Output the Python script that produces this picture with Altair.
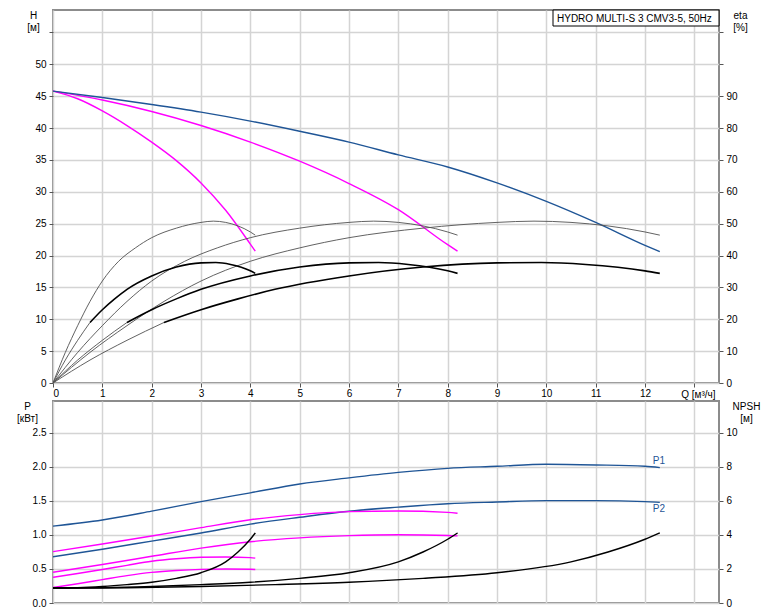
import altair as alt
import pandas as pd

FONT = "Liberation Sans"
BLUE = "#1f5596"
MAGENTA = "#ff00ff"
GRID = "#d4d4d4"
FRAME = "#8c8c8c"

TITLE = "HYDRO MULTI-S 3 CMV3-5, 50Hz"

# ---------------- Q-H curves (H, m) : 1, 2 and 3 pumps
q_h_1 = [0, 0.5, 1, 1.5, 2, 2.5, 3, 3.5, 4, 4.1]
h_1 = [45.8, 44.6, 42.7, 40.4, 37.8, 34.9, 31.4, 27.1, 21.8, 20.7]
q_h_2 = [0, 1, 2, 3, 4, 5, 6, 7, 8, 8.2]
h_2 = [45.8, 44.4, 42.6, 40.4, 37.8, 34.8, 31.3, 27.2, 21.7, 20.7]
q_h_3 = [0, 1, 2, 3, 4, 5, 6, 7, 8, 9, 10, 11, 12, 12.3]
h_3 = [45.8, 44.8, 43.7, 42.5, 41.1, 39.5, 37.8, 35.8, 33.9, 31.4, 28.5, 25.2, 21.6, 20.6]

# ---------------- pump efficiency (eta, %)
q_e_1 = [0, 0.25, 0.5, 0.75, 1, 1.33, 1.67, 2, 2.5, 3, 3.25, 3.5, 4, 4.1]
e_1 = [0, 9.6, 18.0, 25.6, 32.0, 38.2, 42.4, 45.6, 48.6, 50.4, 50.8, 50.4, 47.4, 46.4]
q_e_2 = [0, 0.5, 1, 1.5, 2, 2.67, 3.33, 4, 5, 6, 6.5, 7, 8, 8.2]
e_2 = [0, 9.6, 18.0, 25.6, 32.0, 38.2, 42.4, 45.6, 48.6, 50.4, 50.8, 50.4, 47.4, 46.4]
q_e_3 = [0, 0.75, 1.5, 2.25, 3, 4, 5, 6, 7.5, 9, 9.75, 10.5, 12, 12.3]
e_3 = [0, 9.6, 18.0, 25.6, 32.0, 38.2, 42.4, 45.6, 48.6, 50.4, 50.8, 50.4, 47.4, 46.4]

# ---------------- total efficiency (eta, %), thick from operating range start
q_t_1 = [0, 0.25, 0.5, 0.75, 1, 1.25, 1.5, 2, 2.5, 3, 3.3, 3.6, 4, 4.1]
t_1 = [0, 7.2, 13.4, 19.0, 23.0, 26.4, 29.4, 33.6, 36.4, 37.7, 37.8, 37.2, 35.2, 34.4]
q_t_2 = [0, 0.5, 1, 1.5, 2, 2.5, 3, 4, 5, 6, 6.6, 7.2, 8, 8.2]
t_2 = [0, 7.2, 13.4, 19.0, 23.0, 26.4, 29.4, 33.6, 36.4, 37.7, 37.8, 37.2, 35.2, 34.4]
q_t_3 = [0, 0.75, 1.5, 2.25, 3, 3.75, 4.5, 6, 7.5, 9, 9.9, 10.8, 12, 12.3]
t_3 = [0, 7.2, 13.4, 19.0, 23.0, 26.4, 29.4, 33.6, 36.4, 37.7, 37.8, 37.2, 35.2, 34.4]
t_thick_start = [0.75, 1.5, 2.25]

# ---------------- power (kW)
q_p_3 = [0, 1, 2, 3, 4, 5, 6, 7, 8, 9, 10, 11, 12, 12.3]
p1_3 = [1.13, 1.22, 1.35, 1.49, 1.62, 1.75, 1.84, 1.92, 1.98, 2.01, 2.04, 2.03, 2.01, 1.99]
p2_3 = [0.68, 0.79, 0.91, 1.03, 1.16, 1.26, 1.35, 1.41, 1.46, 1.485, 1.505, 1.505, 1.49, 1.48]
q_p_2 = [0, 1, 2, 3, 4, 5, 6, 7, 8, 8.2]
p1_2 = [0.755, 0.868, 0.985, 1.108, 1.225, 1.30, 1.343, 1.353, 1.333, 1.32]
p2_2 = [0.453, 0.567, 0.687, 0.807, 0.90, 0.957, 0.99, 1.003, 0.993, 0.987]
q_p_1 = [0, 0.5, 1, 1.5, 2, 2.5, 3, 3.5, 4, 4.1]
p1_1 = [0.378, 0.434, 0.493, 0.554, 0.613, 0.65, 0.672, 0.677, 0.667, 0.66]
p2_1 = [0.227, 0.283, 0.343, 0.403, 0.45, 0.478, 0.495, 0.50, 0.497, 0.493]

# ---------------- NPSH (m)
q_n_1 = [0, 0.5, 1, 1.5, 2, 2.5, 3, 3.5, 3.75, 4, 4.1]
q_n_2 = [0, 1, 2, 3, 4, 5, 6, 7, 7.5, 8, 8.2]
q_n_3 = [0, 1.5, 3, 4.5, 6, 7.5, 9, 10.5, 11.25, 12, 12.3]
n_1 = [0.88, 0.9, 0.97, 1.08, 1.22, 1.45, 1.78, 2.42, 3.0, 3.75, 4.12]
n_2 = [0.88, 0.9, 0.97, 1.08, 1.22, 1.45, 1.78, 2.42, 3.0, 3.75, 4.12]
n_3 = [0.88, 0.9, 0.97, 1.08, 1.22, 1.45, 1.78, 2.42, 3.0, 3.75, 4.12]


def curve(q, v, name, kind=""):
    return pd.DataFrame({"Q": q, "v": v, "s": name, "kind": kind,
                         "i": list(range(len(q)))})


h_df = pd.concat([curve(q_h_1, h_1, "H1"), curve(q_h_2, h_2, "H2"),
                  curve(q_h_3, h_3, "H3")])

eta_parts = [curve(q_e_1, e_1, "E1", "thin"), curve(q_e_2, e_2, "E2", "thin"),
             curve(q_e_3, e_3, "E3", "thin")]
for k, (q, t, qs) in enumerate(zip([q_t_1, q_t_2, q_t_3], [t_1, t_2, t_3], t_thick_start)):
    lo = [(a, b) for a, b in zip(q, t) if a <= qs]
    hi = [(a, b) for a, b in zip(q, t) if a >= qs]
    eta_parts.append(curve([a for a, _ in lo], [b for _, b in lo], f"T{k}a", "thin"))
    eta_parts.append(curve([a for a, _ in hi], [b for _, b in hi], f"T{k}b", "thick"))
eta_df = pd.concat(eta_parts)

p_df = pd.concat([curve(q_p_3, p1_3, "P1_3"), curve(q_p_3, p2_3, "P2_3"),
                  curve(q_p_2, p1_2, "P1_2"), curve(q_p_2, p2_2, "P2_2"),
                  curve(q_p_1, p1_1, "P1_1"), curve(q_p_1, p2_1, "P2_1")])
n_df = pd.concat([curve(q_n_1, n_1, "N1"), curve(q_n_2, n_2, "N2"),
                  curve(q_n_3, n_3, "N3")])

lab1_df = pd.DataFrame({"Q": [q_p_3[-1]], "v": [p1_3[-1]], "label": ["P1"]})
lab2_df = pd.DataFrame({"Q": [q_p_3[-1]], "v": [p2_3[-1]], "label": ["P2"]})
title_df = pd.DataFrame({"t": [TITLE]})

W = 666
H_TOP = 373
H_BOT = 202
Q_DOM = [0, 13.5]
H_DOM = [0, 58.53]
ETA_DOM = [0, 117.06]
P_DOM = [0, 2.97]
N_DOM = [0, 11.88]
INTERP = "monotone"

common = dict(tickSize=4, tickColor="#555555", labelFont=FONT, labelFontSize=10,
              labelColor="black", titleFont=FONT, titleFontSize=10,
              titleFontWeight="normal", titleColor="black", domain=False,
              gridColor=GRID, gridWidth=1.5)

x_top = alt.X("Q:Q", scale=alt.Scale(domain=Q_DOM, nice=False),
              axis=alt.Axis(values=list(range(14)), grid=True,
                            labelExpr="datum.value == 13 ? '' : datum.label",
                            labelPadding=1, title="Q [м³/ч]", titleAlign="right",
                            titleBaseline="alphabetic", titleX=662, titleY=14,
                            **common))
x_bot = alt.X("Q:Q", scale=alt.Scale(domain=Q_DOM, nice=False),
              axis=alt.Axis(values=list(range(14)), grid=True, labels=False,
                            ticks=False, title=None, **common))

axis_h = alt.Axis(orient="left", values=list(range(0, 60, 5)), grid=True,
                  labelExpr="datum.value > 50 ? '' : datum.label", labelPadding=3,
                  title=["H", "[м]"], titleAngle=0, titleAlign="center",
                  titleBaseline="top", titleX=-20, titleY=0, titleLineHeight=12,
                  **common)
axis_eta = alt.Axis(orient="right", values=list(range(0, 120, 10)), grid=False,
                    labelExpr="datum.value > 90 ? '' : datum.label", labelPadding=3,
                    title=["eta", "[%]"], titleAngle=0, titleAlign="center",
                    titleBaseline="top", titleX=21, titleY=0, titleLineHeight=12,
                    **common)
axis_p = alt.Axis(orient="left", values=[0, 0.5, 1.0, 1.5, 2.0, 2.5], format=".1f",
                  grid=True, labelPadding=3, title=["P", "[кВт]"], titleAngle=0,
                  titleAlign="center", titleBaseline="top", titleX=-26, titleY=0,
                  titleLineHeight=12, **common)
axis_n = alt.Axis(orient="right", values=[0, 2, 4, 6, 8, 10], grid=False,
                  labelPadding=3, title=["NPSH", "[м]"], titleAngle=0,
                  titleAlign="center", titleBaseline="top", titleX=27, titleY=0,
                  titleLineHeight=12, **common)

h_layer = alt.Chart(h_df).mark_line(strokeWidth=1.4, clip=True, interpolate=INTERP).encode(
    x=x_top,
    y=alt.Y("v:Q", scale=alt.Scale(domain=H_DOM, nice=False), axis=axis_h),
    color=alt.Color("s:N", scale=alt.Scale(domain=["H1", "H2", "H3"],
                                           range=[MAGENTA, MAGENTA, BLUE]), legend=None),
    detail="s:N", order="i:Q")

eta_layer = alt.Chart(eta_df).mark_line(clip=True, interpolate=INTERP).encode(
    x=x_top,
    y=alt.Y("v:Q", scale=alt.Scale(domain=ETA_DOM, nice=False), axis=axis_eta),
    color=alt.Color("kind:N", scale=alt.Scale(domain=["thin", "thick"],
                                              range=["#505050", "#000000"]), legend=None),
    strokeWidth=alt.StrokeWidth("kind:N", scale=alt.Scale(domain=["thin", "thick"],
                                                          range=[0.9, 1.6]), legend=None),
    detail="s:N", order="i:Q")

box = alt.Chart(title_df).mark_rect(fill="white", stroke="black", strokeWidth=1).encode(
    x=alt.value(500), x2=alt.value(W), y=alt.value(0), y2=alt.value(16))
box_text = alt.Chart(title_df).mark_text(align="left", baseline="alphabetic", font=FONT,
                                         fontSize=10, color="black").encode(
    x=alt.value(504), y=alt.value(12), text="t:N")

top = alt.layer(h_layer, eta_layer, box, box_text).resolve_scale(
    y="independent", color="independent", strokeWidth="independent"
).properties(width=W, height=H_TOP)

p_layer = alt.Chart(p_df).mark_line(strokeWidth=1.4, clip=True, interpolate=INTERP).encode(
    x=x_bot,
    y=alt.Y("v:Q", scale=alt.Scale(domain=P_DOM, nice=False), axis=axis_p),
    color=alt.Color("s:N", scale=alt.Scale(
        domain=["P1_3", "P2_3", "P1_2", "P2_2", "P1_1", "P2_1"],
        range=[BLUE, BLUE, MAGENTA, MAGENTA, MAGENTA, MAGENTA]), legend=None),
    detail="s:N", order="i:Q")

n_layer = alt.Chart(n_df).mark_line(strokeWidth=1.4, color="black", clip=True,
                                    interpolate=INTERP).encode(
    x=x_bot,
    y=alt.Y("v:Q", scale=alt.Scale(domain=N_DOM, nice=False), axis=axis_n),
    detail="s:N", order="i:Q")

lab1 = alt.Chart(lab1_df).mark_text(align="left", baseline="middle", dx=-7, dy=-7,
                                    font=FONT, fontSize=10, color=BLUE).encode(
    x=x_bot, y=alt.Y("v:Q", scale=alt.Scale(domain=P_DOM, nice=False), axis=None),
    text="label:N")
lab2 = alt.Chart(lab2_df).mark_text(align="left", baseline="middle", dx=-7, dy=7,
                                    font=FONT, fontSize=10, color=BLUE).encode(
    x=x_bot, y=alt.Y("v:Q", scale=alt.Scale(domain=P_DOM, nice=False), axis=None),
    text="label:N")

bottom = alt.layer(p_layer, n_layer, lab1, lab2).resolve_scale(
    y="independent", color="independent"
).properties(width=W, height=H_BOT)

chart = alt.vconcat(top, bottom, spacing=18, bounds="flush").properties(
    padding={"left": 7, "top": 0, "right": 5, "bottom": 0},
    background="white",
).configure_view(stroke=FRAME, strokeWidth=2)

chart.save("out.html", embed_options={"renderer": "svg", "actions": False})
